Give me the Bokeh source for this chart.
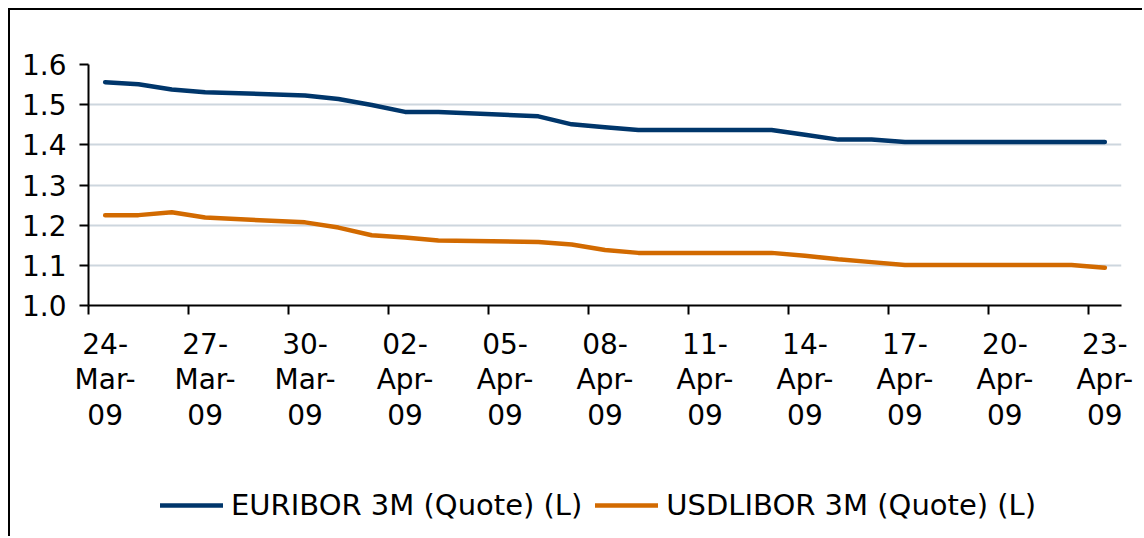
from datetime import date
from bokeh.plotting import figure
from bokeh.models import Range1d, FixedTicker, Legend, LegendItem, Spacer
from bokeh.layouts import column, row
from bokeh.embed import file_html
from bokeh.resources import INLINE

# ---- data ----
dates = ["2009-03-24", "2009-03-25", "2009-03-26", "2009-03-27",
         "2009-03-30", "2009-03-31", "2009-04-01", "2009-04-02", "2009-04-03",
         "2009-04-06", "2009-04-07", "2009-04-08", "2009-04-09", "2009-04-10",
         "2009-04-13", "2009-04-14", "2009-04-15", "2009-04-16", "2009-04-17",
         "2009-04-20", "2009-04-21", "2009-04-22", "2009-04-23"]
euribor = [1.556, 1.551, 1.538, 1.531, 1.523, 1.514, 1.499, 1.482, 1.482,
           1.471, 1.451, 1.444, 1.437, 1.437, 1.437, 1.425, 1.413, 1.413,
           1.407, 1.407, 1.407, 1.407, 1.407]
usdlibor = [1.225, 1.225, 1.232, 1.219, 1.207, 1.194, 1.175, 1.169, 1.162,
            1.158, 1.152, 1.138, 1.131, 1.131, 1.131, 1.124, 1.115, 1.108,
            1.101, 1.101, 1.101, 1.101, 1.094]
x_tick_dates = ["2009-03-24", "2009-03-27", "2009-03-30", "2009-04-02",
                "2009-04-05", "2009-04-08", "2009-04-11", "2009-04-14",
                "2009-04-17", "2009-04-20", "2009-04-23"]
x_tick_labels = ["24-Mar-09", "27-Mar-09", "30-Mar-09", "02-Apr-09",
                 "05-Apr-09", "08-Apr-09", "11-Apr-09", "14-Apr-09",
                 "17-Apr-09", "20-Apr-09", "23-Apr-09"]
y_ticks = [1.0, 1.1, 1.2, 1.3, 1.4, 1.5, 1.6]
y_labels = ["1.0", "1.1", "1.2", "1.3", "1.4", "1.5", "1.6"]
series_names = ["EURIBOR 3M (Quote) (L)", "USDLIBOR 3M (Quote) (L)"]

# ---- style ----
FONT = "DejaVu Sans"
FS = "28px"
NAVY = "#00366B"
ORANGE = "#D26A00"
GRID = "#CDD6DE"
BORDER = "2px solid black"

start = date(2009, 3, 24)
def day_pos(d):
    return (date.fromisoformat(d) - start).days + 0.5

xs = [day_pos(d) for d in dates]
major = [day_pos(d) for d in x_tick_dates]
minor = [m - 0.5 for m in major]

# ---------------- main chart ----------------
p = figure(width=1134, height=460, output_backend="svg", toolbar_location=None,
           x_range=Range1d(0, 31), y_range=Range1d(1.0, 1.6),
           min_border_left=78, min_border_right=23, min_border_top=54,
           min_border_bottom=165,
           styles={"border-top": BORDER, "border-left": BORDER})
p.outline_line_color = None
p.background_fill_color = "white"
p.border_fill_color = "white"

p.xgrid.visible = False
p.ygrid.ticker = FixedTicker(ticks=y_ticks)
p.ygrid.grid_line_color = GRID
p.ygrid.grid_line_width = 2

ya = p.yaxis[0]
ya.ticker = FixedTicker(ticks=y_ticks)
ya.major_label_overrides = {t: l for t, l in zip(y_ticks, y_labels)}
ya.axis_line_width = 2
ya.axis_line_color = "black"
ya.major_tick_line_width = 2
ya.major_tick_out = 9
ya.major_tick_in = 0
ya.minor_tick_line_color = None
ya.major_label_standoff = 13
ya.major_label_text_font = FONT
ya.major_label_text_font_size = FS
ya.major_label_text_color = "black"

xa = p.xaxis[0]
xa.ticker = FixedTicker(ticks=major, minor_ticks=minor)
xa.major_label_overrides = {t: "-\n".join(l.split("-")) for t, l in zip(major, x_tick_labels)}
xa.axis_line_width = 2
xa.axis_line_color = "black"
xa.major_tick_out = 0
xa.major_tick_in = 0
xa.major_tick_line_color = None
xa.minor_tick_out = 9
xa.minor_tick_in = 0
xa.minor_tick_line_width = 2
xa.minor_tick_line_color = "black"
xa.major_label_standoff = 13
xa.major_label_text_font = FONT
xa.major_label_text_font_size = FS
xa.major_label_text_color = "black"
xa.major_label_text_line_height = 1.09

p.line(xs, euribor, line_color=NAVY, line_width=4.5, line_join="round", line_cap="round")
p.line(xs, usdlibor, line_color=ORANGE, line_width=4.5, line_join="round", line_cap="round")

# ---------------- legend strip ----------------
pl = figure(width=1134, height=68, output_backend="svg", toolbar_location=None,
            x_range=Range1d(-100, -99), y_range=Range1d(-100, -99),
            x_axis_location=None, y_axis_location=None,
            min_border=0, styles={"border-left": BORDER})
pl.outline_line_color = None
pl.xgrid.visible = False
pl.ygrid.visible = False
lr1 = pl.line(xs, euribor, line_color=NAVY, line_width=4.5, line_cap="round")
lr2 = pl.line(xs, usdlibor, line_color=ORANGE, line_width=4.5, line_cap="round")

legend = Legend(items=[LegendItem(label=series_names[0], renderers=[lr1]),
                       LegendItem(label=series_names[1], renderers=[lr2])],
                orientation="horizontal", location=(72, 14),
                glyph_width=63, glyph_height=30, label_standoff=8, spacing=13,
                padding=0, margin=0, border_line_alpha=0, background_fill_alpha=0,
                label_text_font=FONT, label_text_font_size="29px",
                label_text_color="black")
pl.add_layout(legend)

root = column(Spacer(width=1144, height=8),
              row(Spacer(width=8, height=530), column(p, pl)))

open("out.html", "w").write(file_html(root, INLINE))
